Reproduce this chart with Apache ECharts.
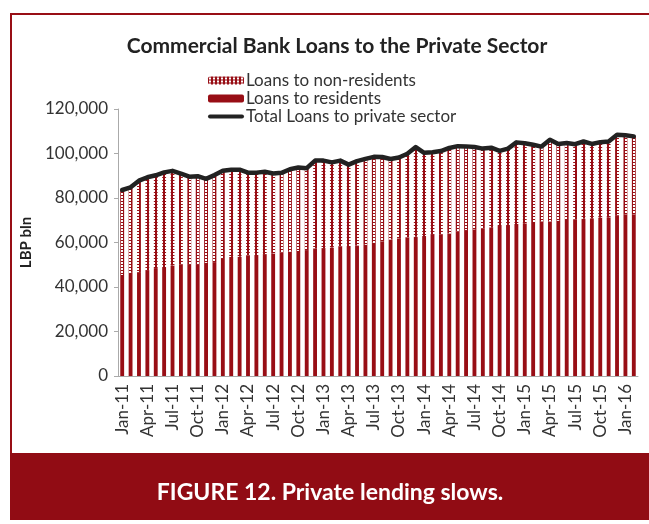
<!DOCTYPE html>
<html>
<head>
<meta charset="utf-8">
<script src="https://cdn.jsdelivr.net/npm/echarts@6/dist/echarts.min.js"></script>
<style>
  html, body { margin: 0; padding: 0; background: #fff; }
  #chart { width: 649px; height: 524px; }
</style>
</head>
<body>
<div id="chart"></div>
<script>
// Monthly categories, Jan-11 to Feb-16
const months = [
  'Jan-11','Feb-11','Mar-11','Apr-11','May-11','Jun-11','Jul-11','Aug-11','Sep-11','Oct-11','Nov-11','Dec-11',
  'Jan-12','Feb-12','Mar-12','Apr-12','May-12','Jun-12','Jul-12','Aug-12','Sep-12','Oct-12','Nov-12','Dec-12',
  'Jan-13','Feb-13','Mar-13','Apr-13','May-13','Jun-13','Jul-13','Aug-13','Sep-13','Oct-13','Nov-13','Dec-13',
  'Jan-14','Feb-14','Mar-14','Apr-14','May-14','Jun-14','Jul-14','Aug-14','Sep-14','Oct-14','Nov-14','Dec-14',
  'Jan-15','Feb-15','Mar-15','Apr-15','May-15','Jun-15','Jul-15','Aug-15','Sep-15','Oct-15','Nov-15','Dec-15',
  'Jan-16','Feb-16'
];

// Loans to residents (LBP bln)
const residents = [
  45400, 46400, 46700, 47600, 48500, 49000, 49700, 50000, 50300, 50300, 50900, 51200,
  52600, 53500, 53600, 54100, 54400, 54800, 55100, 55400, 55900, 56200, 56600, 57400,
  57500, 57800, 58100, 58400, 58700, 59000, 59900, 60600, 61400, 61900, 62300, 62600,
  62900, 63400, 63700, 64100, 64900, 65600, 65900, 66400, 66800, 67400, 67900, 68300,
  68600, 69200, 69500, 69500, 69800, 70100, 70500, 70700, 70900, 71200, 71300, 72300,
  72700, 72700
];

// Loans to non-residents (LBP bln)
const nonResidents = [
  38200, 38400, 41100, 41700, 41700, 42500, 42500, 41000, 39300, 39500, 37700, 39100,
  39600, 39200, 39100, 37300, 37000, 37000, 35900, 35900, 37000, 37500, 36800, 39400,
  39300, 38200, 38700, 36600, 37900, 38600, 38600, 37800, 36100, 36300, 37600, 40300,
  37400, 37200, 37400, 38400, 38400, 37600, 37000, 35800, 35800, 33800, 34300, 36700,
  36000, 34700, 33600, 36700, 34500, 34600, 33700, 34700, 33400, 33900, 34100, 36100,
  35500, 35000
];

// Total loans to private sector (LBP bln)
const totalLoans = [
  83600, 84800, 87800, 89300, 90200, 91500, 92200, 91000, 89600, 89800, 88600, 90300,
  92200, 92700, 92700, 91400, 91400, 91800, 91000, 91300, 92900, 93700, 93400, 96800,
  96800, 96000, 96800, 95000, 96600, 97600, 98500, 98400, 97500, 98200, 99900, 102900,
  100300, 100600, 101100, 102500, 103300, 103200, 102900, 102200, 102600, 101200, 102200, 105000,
  104600, 103900, 103100, 106200, 104300, 104700, 104200, 105400, 104300, 105100, 105400, 108400,
  108200, 107700
];

const RED = '#980e15';
const FONT = 'Lato, "Open Sans", sans-serif';

// Dotted fill used for the non-resident segments
const tile = document.createElement('canvas');
tile.width = 4; tile.height = 3;
const tctx = tile.getContext('2d');
tctx.fillStyle = RED;
tctx.fillRect(0, 0, 4, 3);
tctx.fillStyle = '#ffffff';
tctx.fillRect(1, 1, 2, 2);

const chart = echarts.init(document.getElementById('chart'), null, { renderer: 'canvas' });

chart.setOption({
  animation: false,
  backgroundColor: '#fff',
  title: {
    text: 'Commercial Bank Loans to the Private Sector',
    left: 332, top: 31, textAlign: 'center',
    textStyle: { fontFamily: FONT, fontSize: 21, fontWeight: 'bold', color: '#222' }
  },
  legend: {
    orient: 'vertical',
    left: 203, top: 67,
    itemWidth: 36, itemHeight: 8, itemGap: 1,
    textStyle: { fontFamily: FONT, fontSize: 17, color: '#333', padding: [0, 0, 0, -3] },
    data: [
      { name: 'Loans to non-residents' },
      { name: 'Loans to residents' },
      {
        name: 'Total Loans to private sector',
        icon: 'path://M2,0 L34,0 A2,2 0 0 1 34,4 L2,4 A2,2 0 0 1 2,0 Z',
        itemStyle: { color: '#222' }
      }
    ]
  },
  grid: { left: 118, right: 11, top: 109, bottom: 148 },
  xAxis: {
    type: 'category',
    data: months,
    boundaryGap: true,
    axisLine: { lineStyle: { color: '#aaa', width: 1 } },
    axisTick: { interval: 2, length: 5, lineStyle: { color: '#aaa' } },
    axisLabel: {
      interval: 2, rotate: 90, margin: 8,
      fontFamily: FONT, fontSize: 17, color: '#333'
    }
  },
  yAxis: {
    type: 'value',
    min: 0, max: 120000, interval: 20000,
    name: 'LBP bln',
    nameLocation: 'middle',
    nameGap: 72,
    nameRotate: 90,
    nameTextStyle: { fontFamily: FONT, fontSize: 15, fontWeight: 'bold', color: '#222' },
    axisLine: { show: true, lineStyle: { color: '#aaa', width: 1 } },
    axisTick: { show: true, length: 4, lineStyle: { color: '#aaa' } },
    splitLine: { show: false },
    axisLabel: {
      margin: 10,
      fontFamily: FONT, fontSize: 17, color: '#333',
      formatter: v => v.toLocaleString('en-US')
    }
  },
  series: [
    {
      name: 'Loans to residents',
      type: 'bar', stack: 'loans',
      barWidth: '46%',
      itemStyle: { color: RED },
      data: residents,
      z: 2
    },
    {
      name: 'Loans to non-residents',
      type: 'bar', stack: 'loans',
      barWidth: '46%',
      itemStyle: { color: { image: tile, repeat: 'repeat' } },
      data: nonResidents,
      z: 2
    },
    {
      name: 'Total Loans to private sector',
      type: 'line',
      data: totalLoans,
      symbol: 'none',
      lineStyle: { color: '#222', width: 4.5, join: 'round', cap: 'round' },
      itemStyle: { color: '#222' },
      z: 5
    }
  ],
  graphic: [
    // frame lines along the top and left
    { type: 'rect', shape: { x: 10, y: 13, width: 639, height: 2 }, style: { fill: RED }, silent: true },
    { type: 'rect', shape: { x: 10, y: 13, width: 2, height: 442 }, style: { fill: RED }, silent: true },
    // caption band
    { type: 'rect', shape: { x: 10, y: 453, width: 639, height: 67 }, style: { fill: '#910c14' }, silent: true },
    {
      type: 'text', x: 330, y: 493,
      style: {
        text: 'FIGURE 12. Private lending slows.',
        fill: '#fff', font: 'bold 23px ' + FONT,
        textAlign: 'center', textVerticalAlign: 'middle'
      },
      silent: true
    }
  ]
});
</script>
</body>
</html>
